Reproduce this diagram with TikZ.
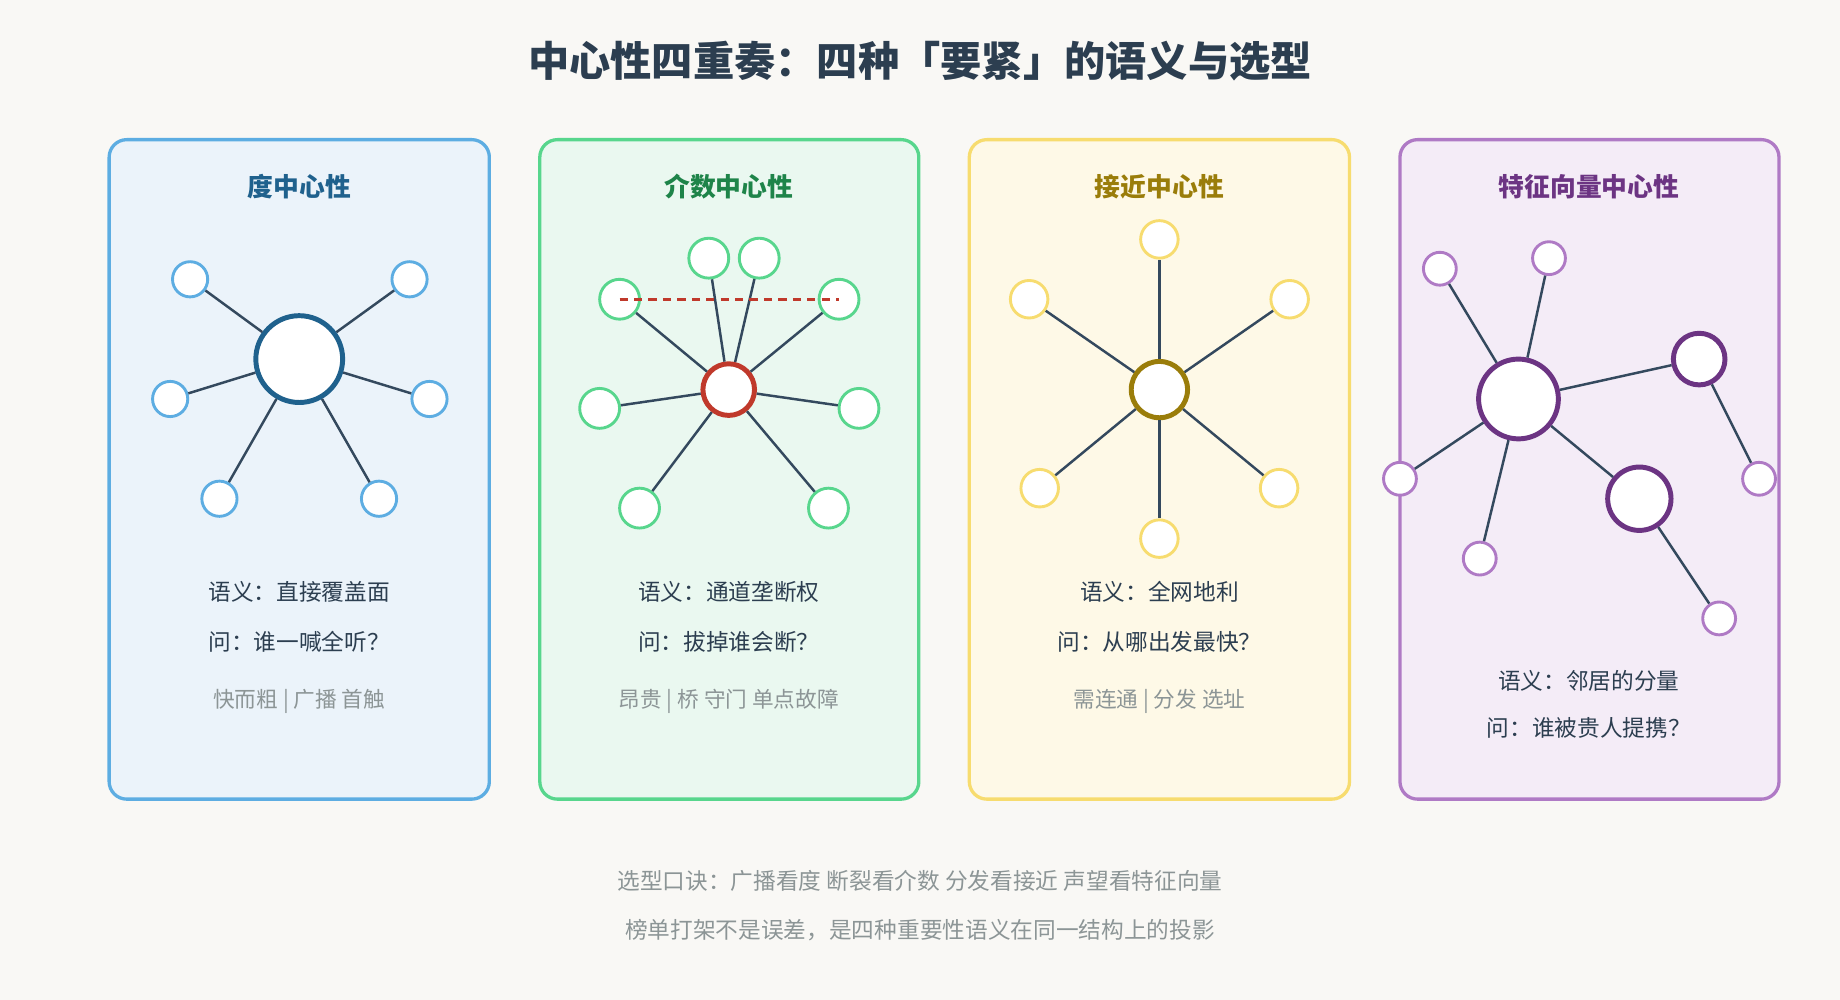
\documentclass[tikz,border=0pt]{standalone}
\usepackage{fontspec}
\setmainfont{Noto Sans CJK SC}
\begin{document}
\definecolor{bg}{HTML}{F9F8F5}
\definecolor{dk}{HTML}{2C3E50}
\definecolor{ed}{HTML}{34495E}
\definecolor{gy}{HTML}{8C9596}
\definecolor{bB}{HTML}{5DADE2}\definecolor{fB}{HTML}{EBF3FA}\definecolor{tB}{HTML}{1F618D}
\definecolor{bG}{HTML}{58D68D}\definecolor{fG}{HTML}{EAF8F0}\definecolor{tG}{HTML}{1E8449}
\definecolor{bY}{HTML}{F7DC6F}\definecolor{fY}{HTML}{FEF9E7}\definecolor{tY}{HTML}{9A7D0A}
\definecolor{bP}{HTML}{AF7AC5}\definecolor{fP}{HTML}{F4ECF7}\definecolor{tP}{HTML}{6C3483}
\definecolor{rd}{HTML}{C0392B}
\begin{tikzpicture}[x=0.02cm,y=-0.02cm,
  card/.style={draw=#1,line width=1.6pt,rounded corners=0.3cm},
  ctitle/.style={font=\bfseries\fontsize{12.5}{14}\selectfont,text=#1},
  body/.style={font=\fontsize{11}{13}\selectfont,text=dk},
  note/.style={font=\fontsize{10.5}{12}\selectfont,text=gy},
  leaf/.style={circle,draw=#1,fill=white,line width=1.4pt,inner sep=0pt},
  hub/.style={circle,draw=#1,fill=white,line width=2.4pt,inner sep=0pt},
  edge/.style={draw=ed,line width=1.2pt}]
\fill[bg] (0,0) rectangle (1568,852);
\useasboundingbox (0,0) rectangle (1568,852);
\node[font=\bfseries\fontsize{20}{24}\selectfont,text=dk] (title) at (784,52) {中心性四重奏：四种「要紧」的语义与选型};
% cards
\filldraw[card=bB,fill=fB] (93,119) rectangle (417,681);
\filldraw[card=bG,fill=fG] (460,119) rectangle (783,681);
\filldraw[card=bY,fill=fY] (826,119) rectangle (1150,681);
\filldraw[card=bP,fill=fP] (1193,119) rectangle (1516,681);
\node[ctitle=tB] (t1) at (255,159) {度中心性};
\node[ctitle=tG] (t2) at (621,159) {介数中心性};
\node[ctitle=tY] (t3) at (988,159) {接近中心性};
\node[ctitle=tP] (t4) at (1354,159) {特征向量中心性};
% card1
\node[hub=tB,minimum size=74\pgflinewidth,minimum size=1.48cm] (c1) at (255,306) {};
\foreach \n/\p in {a/{(162,238)},b/{(349,238)},c/{(145,340)},d/{(366,340)},e/{(187,425)},f/{(323,425)}}{
  \node[leaf=bB,minimum size=0.6cm] (c1\n) at \p {};
  \draw[edge] (c1) -- (c1\n);}
% card2
\node[hub=rd,minimum size=0.88cm] (c2) at (621,332) {};
\foreach \n/\p in {a/{(604,220)},b/{(647,220)},c/{(528,255)},d/{(715,255)},e/{(511,348)},f/{(732,348)},g/{(545,433)},h/{(706,433)}}{
  \node[leaf=bG,minimum size=0.68cm] (c2\n) at \p {};
  \draw[edge] (c2) -- (c2\n);}
\draw[rd,line width=1.4pt,dash pattern=on 4pt off 3pt] (c2c.center) -- (c2d.center);
% card3
\node[hub=tY,minimum size=0.96cm] (c3) at (988,332) {};
\foreach \n/\p in {a/{(988,204)},b/{(877,255)},c/{(1099,255)},d/{(886,416)},e/{(1090,416)},f/{(988,459)}}{
  \node[leaf=bY,minimum size=0.64cm] (c3\n) at \p {};
  \draw[edge] (c3) -- (c3\n);}
% card4
\node[hub=tP,minimum size=1.36cm] (c4) at (1294,340) {};
\node[hub=tP,minimum size=0.88cm] (h1) at (1448,306) {};
\node[hub=tP,minimum size=1.08cm] (h2) at (1397,425) {};
\draw[edge] (c4) -- (h1); \draw[edge] (c4) -- (h2);
\foreach \n/\p in {a/{(1227,229)},b/{(1320,220)},c/{(1193,408)},d/{(1261,476)}}{
  \node[leaf=bP,minimum size=0.56cm] (c4\n) at \p {};
  \draw[edge] (c4) -- (c4\n);}
\node[leaf=bP,minimum size=0.56cm] (h1a) at (1499,408) {};
\node[leaf=bP,minimum size=0.56cm] (h2a) at (1465,527) {};
\draw[edge] (h1) -- (h1a); \draw[edge] (h2) -- (h2a);
% texts
\node[body] (s1) at (255,504) {语义：直接覆盖面};
\node[body] (q1) at (255,547) {问：谁一喊全听？};
\node[note] (n1) at (255,598) {快而粗 | 广播 首触};
\node[body] (s2) at (621,504) {语义：通道垄断权};
\node[body] (q2) at (621,547) {问：拔掉谁会断？};
\node[note] (n2) at (621,598) {昂贵 | 桥 守门 单点故障};
\node[body] (s3) at (988,504) {语义：全网地利};
\node[body] (q3) at (988,547) {问：从哪出发最快？};
\node[note] (n3) at (988,598) {需连通 | 分发 选址};
\node[body] (s4) at (1354,580) {语义：邻居的分量};
\node[body] (q4) at (1354,620) {问：谁被贵人提携？};
\node[note,font=\fontsize{11}{13}\selectfont] (f1) at (784,751) {选型口诀：广播看度 断裂看介数 分发看接近 声望看特征向量};
\node[note,font=\fontsize{11}{13}\selectfont] (f2) at (784,793) {榜单打架不是误差，是四种重要性语义在同一结构上的投影};
\end{tikzpicture}
\end{document}
